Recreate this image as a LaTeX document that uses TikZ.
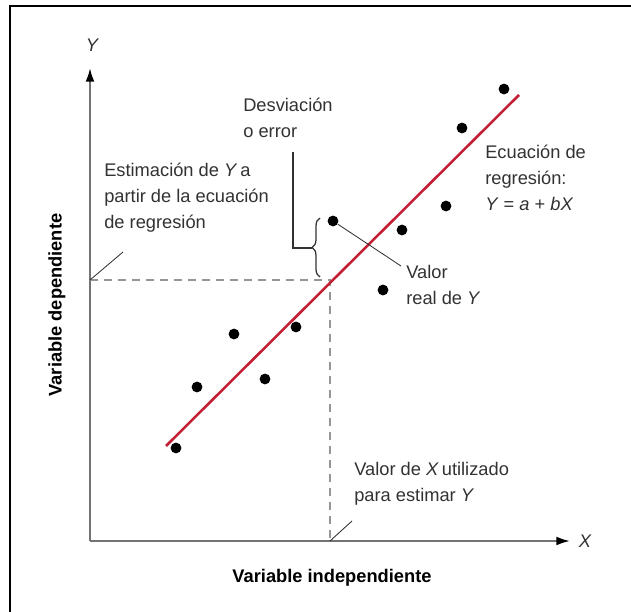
\documentclass[tikz,border=0pt]{standalone}
\usepackage{fontspec}
\setmainfont{Liberation Sans}
\usetikzlibrary{positioning,arrows.meta,decorations.pathreplacing}
\definecolor{regred}{RGB}{196,30,52}
\definecolor{axisgray}{RGB}{115,115,115}
\definecolor{txtgray}{RGB}{50,50,50}
\definecolor{dashgray}{RGB}{150,150,150}
\tikzset{
  axisline/.style={line width=1.4pt,draw=axisgray,-{Latex[length=3.4mm,width=2.2mm,black]}},
  dot/.style={circle,fill=black,inner sep=0pt,minimum size=2.7mm},
  guide/.style={draw=dashgray,line width=0.8pt,dash pattern=on 2mm off 1.5mm},
  leader/.style={draw=txtgray,line width=0.6pt},
  lbl/.style={text=txtgray,inner sep=0pt,align=left,font=\fontsize{13}{18.5}\selectfont},
  axtitle/.style={text=black,inner sep=0pt,font=\fontsize{13}{16}\selectfont\bfseries}
}
\begin{document}
\begin{tikzpicture}[x=0.25mm,y=-0.25mm]
        \useasboundingbox (0,0) rectangle (631,612);
        % Frame (top and left only)
        \draw[line width=1pt] (631,6) -- (10,6) -- (10,612);

        % Axes
        \coordinate (O) at (90,541);
        \coordinate (xend) at (570,541);
        \coordinate (yend) at (90,68);
        \draw[axisline] (O) -- (xend);
        \draw[axisline] (O) -- (yend);
        \node[lbl,font=\fontsize{13}{16}\selectfont\itshape] (xlab) at (585,541) {X};
        \node[lbl,font=\fontsize{13}{16}\selectfont\itshape] (ylab) at (92,45) {Y};

        % Axis titles
        \node[axtitle,rotate=90] (vdep) at (57,305) {Variable dependiente};
        \node[axtitle] (vind) at (332,578) {Variable independiente};

        % Estimate guides
        \coordinate (yhat) at (90,280);
        \coordinate (est) at (330,280);
        \coordinate (xval) at (330,541);
        \draw[guide] (yhat) -- (est) -- (xval);

        % Regression line
        \coordinate (rlo) at (166,446);
        \coordinate (rhi) at (519,95);
        \draw[regred,line width=1.8pt] (rlo) -- (rhi);

        % Data points
        \foreach \px/\py [count=\i] in {176/448,197/387,234/334,265/379,296/327,
            333/221,383/290,402/230,446/206,462/128,504/89}
            \node[dot] (d\i) at (\px,\py) {};

        % Deviation brace
        \draw[txtgray,line width=0.9pt,decorate,decoration={brace,amplitude=2mm}]
            (320,277) -- (320,218);
        \coordinate (btip) at (312,248);
        \coordinate (bcorner) at (293,248);
        \coordinate (btop) at (293,152);
        \draw[txtgray,line width=0.9pt] (btip) -- (bcorner) -- (btop);
        \node[lbl,anchor=north west] (desv) at (243,98) {Desviación\\o error};

        % Estimate label
        \node[lbl,anchor=north west] (estlab) at (104,163)
            {Estimación de \textit{Y}\,a\\partir de la ecuación\\de regresión};
        \coordinate (estlead) at (123,252);
        \draw[leader] (estlead) -- (yhat);

        % Actual value label
        \node[lbl,anchor=north west] (vreal) at (406,265) {Valor\\real de \textit{Y}};
        \coordinate (vlead) at (401,266);
        \draw[leader] (d6) -- (vlead);

        % Equation label
        \node[lbl,anchor=north west] (ecua) at (485,145)
            {Ecuación de\\regresión:\\\textit{Y}\;=\;\textit{a}\;+\;\textit{bX}};

        % X value label
        \node[lbl,anchor=north west] (xlabel) at (354,462)
            {Valor de \textit{X}\,utilizado\\para estimar \textit{Y}};
        \coordinate (xlead) at (352,521);
        \draw[leader] (xlead) -- (xval);
\end{tikzpicture}
\end{document}
